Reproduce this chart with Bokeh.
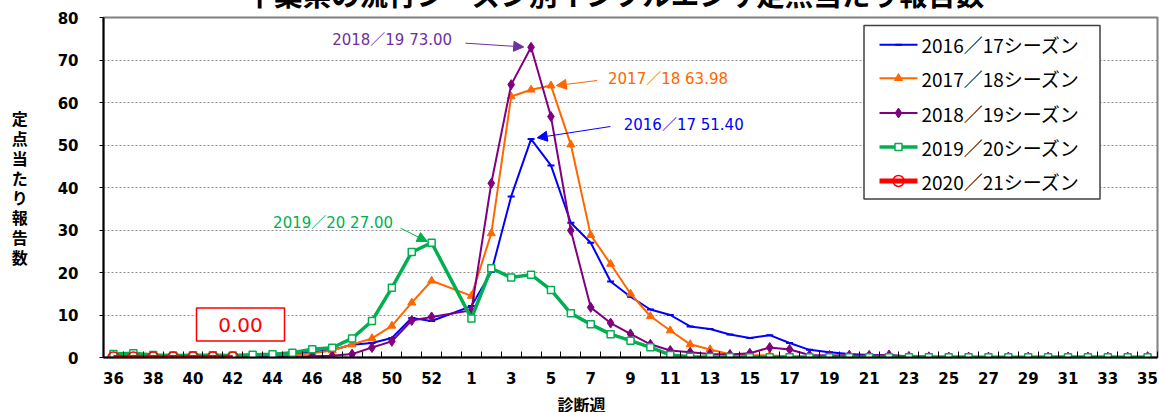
from bokeh.plotting import figure
from bokeh.models import (Range1d, FixedTicker, Label, Arrow, NormalHead, BoxAnnotation, Title)
from bokeh.embed import file_html
from bokeh.resources import INLINE

# ---------------- data ----------------
weeks = [36, 37, 38, 39, 40, 41, 42, 43, 44, 45, 46, 47, 48, 49, 50, 51, 52, 53,
         1, 2, 3, 4, 5, 6, 7, 8, 9, 10, 11, 12, 13, 14, 15, 16, 17, 18, 19, 20,
         21, 22, 23, 24, 25, 26, 27, 28, 29, 30, 31, 32, 33, 34, 35]

season_labels = ["2016／17シーズン", "2017／18シーズン", "2018／19シーズン",
                 "2019／20シーズン", "2020／21シーズン"]

s2016_17 = [0.2, 0.2, 0.2, 0.2, 0.2, 0.3, 0.3, 0.4, 0.5, 0.8, 1.25, 1.8, 3.0, 3.4, 4.6, 9.3, 8.6, None,
            12.1, 20.1, 37.9, 51.40, 45.2, 31.7, 27.0, 17.9, 14.3, 11.3, 10.0, 7.3, 6.7, 5.4, 4.6, 5.25, 3.4, 1.8, 1.25, 0.8,
            0.6, 0.45, 0.3, 0.2, 0.15, 0.15, 0.1, 0.1, 0.1, 0.15, 0.2, 0.2, 0.15, 0.1, 0.1]

s2017_18 = [0.1, 0.1, 0.1, 0.1, 0.1, 0.1, 0.2, 0.3, 0.4, 0.6, 1.0, 1.65, 3.05, 4.5, 7.45, 12.9, 18.05, None,
            14.5, 29.2, 61.4, 63.0, 63.98, 50.1, 28.8, 22.0, 15.0, 9.7, 6.35, 3.1, 1.9, 0.75, 0.55, 0.5, 0.3, 0.2, 0.15, 0.1,
            0.1, 0.1, 0.1, 0.1, 0.05, 0.05, 0.05, 0.05, 0.05, 0.05, 0.05, 0.05, 0.05, 0.05, 0.05]

s2018_19 = [0.05, 0.05, 0.05, 0.05, 0.05, 0.05, 0.1, 0.1, 0.15, 0.2, 0.3, 0.4, 0.8, 2.35, 3.8, 8.7, 9.55, None,
            11.1, 41.0, 64.2, 73.00, 56.7, 29.9, 11.8, 8.1, 5.55, 3.1, 1.65, 1.25, 0.85, 0.7, 1.0, 2.35, 1.9, 0.6, 0.5, 0.55,
            0.5, 0.6, 0.25, 0.15, 0.1, 0.1, 0.1, 0.1, 0.1, 0.1, 0.1, 0.1, 0.1, 0.1, 0.2]

s2019_20 = [0.8, 1.0, 0.6, 0.5, 0.55, 0.55, 0.5, 0.65, 0.75, 1.1, 1.95, 2.3, 4.5, 8.6, 16.4, 24.8, 27.00, None,
            9.2, 21.0, 18.8, 19.5, 15.9, 10.4, 7.8, 5.5, 3.95, 2.4, 0.6, 0.2, 0.1, 0.1, 0.05, 0.05, 0.05, 0.05, 0.05, 0.05,
            0.05, 0.05, 0.05, 0.05, 0.05, 0.05, 0.05, 0.05, 0.05, 0.05, 0.05, 0.05, 0.05, 0.05, 0.05]

s2020_21 = [0.00, 0.00, 0.00, 0.00, 0.00, 0.00, 0.00]

peak_texts = ["2016／17 51.40", "2017／18 63.98", "2018／19 73.00", "2019／20  27.00"]
latest_text = "0.00"

title_text = "千葉県の流行シーズン別インフルエンザ定点当たり報告数"
y_title = "定点当たり報告数"
x_title = "診断週"

# ---------------- layout / styles ----------------
FONT = "Noto Sans CJK JP"
NUMFONT = "DejaVu Sans"
ANNFONT = "DejaVu Sans, Noto Sans CJK JP"
C_BLUE = "#0000FF"
C_ORANGE = "#FF6600"
C_PURPLE = "#800080"
C_GREEN = "#00B050"
C_RED = "#FF0000"

SHIFT = 50                      # hidden strip above the window (title is cut like the reference)
EXTRA = 20                      # hidden strip below the window
FL, FT, FR, FB = 103, 17, 1157, 357   # frame edges in page pixels
NX = len(weeks)
BOTTOM = 412 - FB + EXTRA


def px2x(px):
    return (px - FL) / (FR - FL) * NX - 0.5


def px2y(py):
    return (FB - py) / (FB - FT) * 80


p = figure(width=1159, height=SHIFT + 412 + EXTRA, output_backend="svg", toolbar_location=None,
           x_range=Range1d(-0.5, NX - 0.5), y_range=Range1d(0, 80),
           min_border_left=FL, min_border_right=1159 - FR,
           min_border_top=FT + SHIFT, min_border_bottom=BOTTOM,
           title=title_text)
p.styles = {"margin-top": "-%dpx" % SHIFT, "margin-bottom": "-%dpx" % EXTRA}
p.background_fill_color = "white"
p.border_fill_color = "white"
p.outline_line_color = "#808080"
p.outline_line_width = 2

p.title.text_font = FONT
p.title.text_font_size = "28.5px"
p.title.text_font_style = "bold"
p.title.text_color = "black"
p.title.align = "left"
p.title.offset = 142
p.title.standoff = 7

p.xgrid.visible = False
p.ygrid.ticker = FixedTicker(ticks=[10, 20, 30, 40, 50, 60, 70])
p.ygrid.grid_line_color = "#8c8c8c"
p.ygrid.grid_line_dash = "2 2"
p.ygrid.grid_line_width = 1

xa = p.xaxis[0]
xa.ticker = FixedTicker(ticks=list(range(0, NX, 2)),
                        minor_ticks=[i - 0.5 for i in range(NX + 1)])
xa.major_label_overrides = {i: str(weeks[i]) for i in range(0, NX, 2)}
xa.major_tick_line_color = None
xa.major_tick_in = 0
xa.major_tick_out = 0
xa.minor_tick_in = 6
xa.minor_tick_out = 0
xa.minor_tick_line_color = "black"
xa.minor_tick_line_width = 1
xa.axis_line_color = "black"
xa.axis_line_width = 2
xa.major_label_text_font = NUMFONT
xa.major_label_text_font_size = "15px"
xa.major_label_text_font_style = "bold"
xa.major_label_text_color = "black"
xa.major_label_standoff = 14

ya = p.yaxis[0]
ya.ticker = FixedTicker(ticks=list(range(0, 81, 10)))
ya.major_tick_out = 4
ya.major_tick_in = 0
ya.major_tick_line_color = "black"
ya.minor_tick_line_color = None
ya.axis_line_color = "black"
ya.axis_line_width = 2
ya.major_label_text_font = NUMFONT
ya.major_label_text_font_size = "15px"
ya.major_label_text_font_style = "bold"
ya.major_label_text_color = "black"
ya.major_label_standoff = 21
if "axis_label_orientation" in ya.properties():
    ya.axis_label = "\n".join(y_title)
    ya.axis_label_orientation = "horizontal"
    ya.axis_label_text_line_height = 0.83
else:
    ya.axis_label = y_title
ya.axis_label_text_font = FONT
ya.axis_label_text_font_size = "16px"
ya.axis_label_text_font_style = "bold"
ya.axis_label_text_color = "black"
ya.axis_label_standoff = 27

# x-axis title below
p.add_layout(Title(text=x_title, text_font=FONT, text_font_size="16px", text_font_style="bold",
                   text_color="black", align="left", offset=454, standoff=6), "below")


def pts(vals):
    xs = [i for i, v in enumerate(vals) if v is not None]
    ys = [v for v in vals if v is not None]
    return xs, ys


series = [
    (s2016_17, C_BLUE, 2, "dash", 7, C_BLUE, 2),
    (s2017_18, C_ORANGE, 2, "triangle", 8, C_ORANGE, 1),
    (s2018_19, C_PURPLE, 2, "diamond", 10, C_PURPLE, 1),
    (s2019_20, C_GREEN, 3.5, "square", 7, "white", 1.5),
    (s2020_21, C_RED, 5, "circle", 11, None, 1.5),
]

for vals, color, lw, marker, msize, fill, mlw in series:
    xs, ys = pts(vals)
    p.line(xs, ys, line_color=color, line_width=lw)
    p.scatter(xs, ys, marker=marker, size=msize, line_color=color,
              fill_color=fill, line_width=mlw)

# ---------------- legend (drawn by hand) ----------------
p.add_layout(BoxAnnotation(left=px2x(863.5), right=px2x(1099.5), top=px2y(25), bottom=px2y(198.5),
                           fill_color="white", fill_alpha=1.0, line_color="#404040",
                           line_width=1.5, line_alpha=1.0, level="underlay"))
leg_rows = [44.3, 77.7, 112.5, 146.5, 180.5]
for (vals, color, lw, marker, msize, fill, mlw), lab, row in zip(series, season_labels, leg_rows):
    yy = px2y(row)
    p.line([px2x(879), px2x(917)], [yy, yy], line_color=color, line_width=lw, level="overlay")
    p.scatter([px2x(898)], [yy], marker=marker, size=msize, line_color=color,
              fill_color=fill, line_width=mlw, level="overlay")
    p.add_layout(Label(x=px2x(921), y=yy, text=lab, text_font=FONT, text_font_size="19px",
                       text_color="black", text_align="left", text_baseline="middle"))

# ---------------- peak annotations ----------------
def peak(vals):
    m = max(v for v in vals if v is not None)
    return vals.index(m), m


ann = [
    # series, text, colour, text offset, align, arrow start offset, arrow tip offset
    (s2016_17, peak_texts[0], C_BLUE, (4.66, 3.4), "left", (3.99, 2.95), (0.31, 0.3)),
    (s2017_18, peak_texts[1], C_ORANGE, (2.87, 1.45), "left", (2.32, 1.2), (0.27, 0.0)),
    (s2018_19, peak_texts[2], "#7030A0", (-3.97, 1.6), "right", (-3.3, 0.96), (-0.37, 0.07)),
    (s2019_20, peak_texts[3], C_GREEN, (-1.7, 4.6), "right", (-1.56, 3.42), (-0.22, 0.29)),
]
for vals, txt, color, toff, align, soff, eoff in ann:
    px, py = peak(vals)
    p.add_layout(Label(x=px + toff[0], y=py + toff[1], text=txt, text_font=ANNFONT,
                       text_font_size="15px", text_color=color, text_align=align,
                       text_baseline="middle"))
    p.add_layout(Arrow(x_start=px + soff[0], y_start=py + soff[1],
                       x_end=px + eoff[0], y_end=py + eoff[1],
                       line_color=color, line_width=1,
                       end=NormalHead(size=10, fill_color=color, line_color=color)))

# latest value box
p.add_layout(BoxAnnotation(left=px2x(196), right=px2x(284), bottom=px2y(340.5), top=px2y(307.5),
                           fill_color="white", fill_alpha=1.0, level="underlay",
                           line_color=C_RED, line_width=1.5, line_alpha=1.0))
p.add_layout(Label(x=px2x(240), y=px2y(324), text=latest_text, text_font=NUMFONT,
                   text_font_size="20px", text_color=C_RED, text_align="center",
                   text_baseline="middle"))

open("out.html", "w").write(file_html(p, INLINE))
